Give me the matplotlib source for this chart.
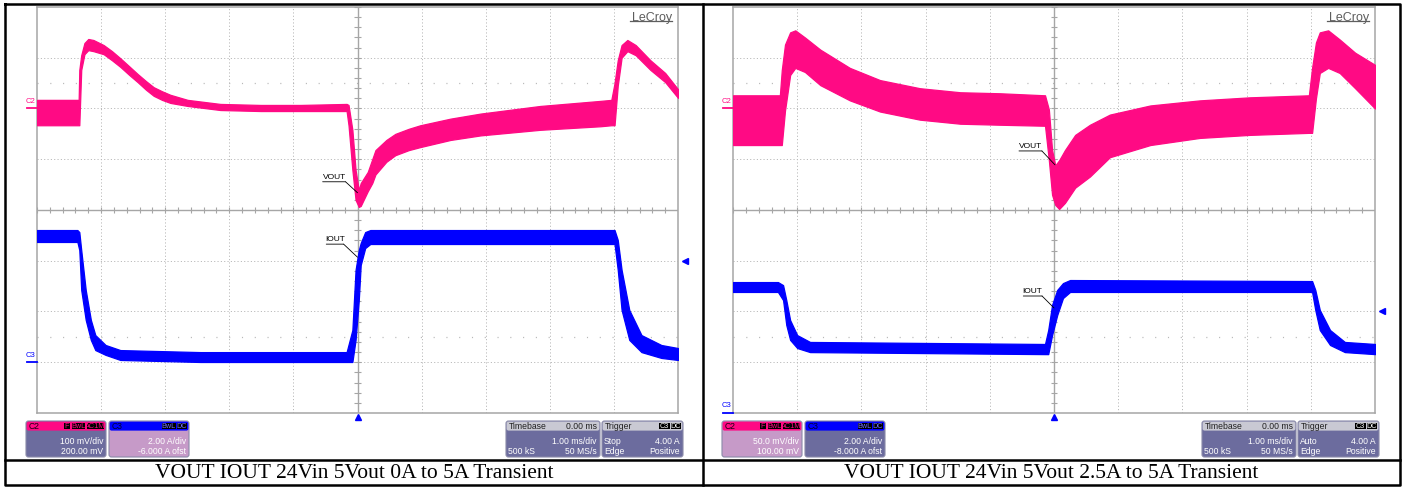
import matplotlib
matplotlib.use("Agg")
import matplotlib.pyplot as plt
from matplotlib.patches import FancyBboxPatch, Rectangle
from matplotlib.transforms import offset_copy
import numpy as np

plt.rcParams['lines.scale_dashes'] = False

# ---------------- data read from the two scope captures ----------------
# time in ms relative to the trigger (1 ms/div), envelopes of the noisy traces
# Left capture: 0A <-> 5A load step
L_vout_t = [-5.00, -4.35, -4.34, -4.31, -4.26, -4.20, -4.12, -3.96, -3.83, -3.70, -3.56, -3.43, -3.30,
            -3.18, -3.05, -2.92, -2.65, -2.14, -1.51, -0.89, -0.17, -0.14, -0.08, -0.03, 0.02, 0.05,
            0.16, 0.23, 0.28, 0.45, 0.59, 0.80, 0.98, 1.45, 1.92, 2.85, 3.79, 3.96, 4.01, 4.06, 4.12,
            4.21, 4.34, 4.57, 4.80, 5.00]
L_vout_hi = [17, 17, 76, 105, 129, 137, 135, 125, 113, 99, 83, 68, 54, 42, 34, 27, 17, 9, 7, 7, 9, 7,
             -42, -121, -161, -147, -125, -100, -82, -62, -50, -40, -33, -20, -10, 5, 15, 17, 50, 95,
             125, 135, 125, 95, 70, 38]
L_vout_lo = [-33, -33, -33, 76, 107, 115, 113, 107, 95, 82, 66, 52, 37, 25, 17, 11, 5, -3, -5, -5, -5,
             -33, -121, -180, -194, -192, -163, -147, -130, -105, -92, -82, -76, -62, -53, -42, -35,
             -33, -33, 45, 100, 113, 105, 76, 52, 21]
L_iout_t = [-5.00, -4.37, -4.34, -4.31, -4.24, -4.16, -4.09, -3.93, -3.70, -2.45, -0.17, -0.08, -0.03,
            0.02, 0.05, 0.12, 0.20, 3.93, 4.01, 4.06, 4.12, 4.24, 4.43, 4.74, 5.00]
L_iout_hi = [5.21, 5.21, 5.13, 4.42, 2.85, 1.67, 1.07, 0.68, 0.48, 0.40, 0.40, 1.27, 3.64, 4.42, 4.70,
             5.13, 5.21, 5.21, 5.21, 4.82, 3.64, 2.06, 1.07, 0.68, 0.56]
L_iout_lo = [4.74, 4.74, 4.42, 2.85, 1.67, 0.88, 0.48, 0.29, 0.09, 0.01, 0.01, 0.01, 0.88, 2.45, 3.83,
             4.50, 4.66, 4.66, 4.66, 3.64, 2.06, 0.88, 0.40, 0.17, 0.09]

# Right capture: 2.5A <-> 5A load step
R_vout_t = [-5.00, -4.27, -4.24, -4.19, -4.11, -4.03, -3.88, -3.64, -3.18, -2.71, -2.09, -1.46, -0.84,
            -0.14, -0.08, -0.03, 0.02, 0.08, 0.17, 0.33, 0.56, 0.87, 1.50, 2.27, 3.05, 3.97, 4.02, 4.08,
            4.14, 4.27, 4.45, 4.69, 5.00]
R_vout_hi = [13, 13, 38, 63, 75, 77, 70, 58, 40, 28, 20, 16, 15, 13, -1, -41, -56, -51, -41, -26, -16,
             -6, 3, 8, 11, 13, 40, 65, 75, 77, 68, 55, 43]
R_vout_lo = [-36, -36, -36, -2, 33, 40, 36, 23, 8, -3, -11, -15, -16, -17, -51, -85, -95, -99, -93, -78,
             -67, -48, -36, -29, -26, -24, -24, 10, 35, 40, 35, 20, 0]
R_iout_t = [-5.00, -4.30, -4.22, -4.17, -4.11, -4.00, -3.80, -0.14, -0.09, -0.03, 0.05, 0.14, 0.25,
            3.97, 4.02, 4.07, 4.14, 4.30, 4.53, 5.00]
R_iout_hi = [5.16, 5.16, 5.04, 4.45, 3.66, 3.07, 2.80, 2.72, 3.27, 4.26, 4.85, 5.12, 5.24, 5.20, 5.20,
             4.85, 4.06, 3.27, 2.80, 2.72]
R_iout_lo = [4.77, 4.77, 4.45, 3.47, 2.88, 2.56, 2.40, 2.32, 2.32, 3.07, 3.86, 4.53, 4.77, 4.77, 4.77,
             4.06, 3.27, 2.68, 2.40, 2.32]

# channel settings (scale per div, offset)
L_c2_scale, L_c2_offset = 100.0, 200.0     # mV/div, mV
L_c3_scale, L_c3_offset = 2.0, -6.0        # A/div, A
R_c2_scale, R_c2_offset = 50.0, 100.0
R_c3_scale, R_c3_offset = 2.0, -8.0
trig_level = 4.0
trig_mode = ["Stop", "Auto"]
captions = ["VOUT IOUT 24Vin 5Vout 0A to 5A Transient",
            "VOUT IOUT 24Vin 5Vout 2.5A to 5A Transient"]

# ---------------- drawing ----------------
W, H = 1405, 487
fig = plt.figure(figsize=(W / 100, H / 100), dpi=100)
PINK = '#FF0A84'
BLUE = '#0000FF'
GRID = '#B8B8B8'
AXC = '#A6A6A6'
SANS = ['Liberation Sans', 'DejaVu Sans']


def frac(x0, y0, x1, y1):
    return [x0 / W, 1 - y1 / H, (x1 - x0) / W, (y1 - y0) / H]


# overlay for table lines, info boxes and captions (pixel coordinates)
ov = fig.add_axes([0, 0, 1, 1])
ov.set_xlim(0, W)
ov.set_ylim(H, 0)
ov.axis('off')
tbl = dict(color='black', lw=1.8, solid_capstyle='projecting')
ov.plot([5, 1400, 1400, 5, 5], [4, 4, 485, 485, 4], **tbl)
ov.plot([703, 703], [4, 485], **tbl)
ov.plot([5, 1400], [460, 460], **tbl)
for cx, cap in zip([354, 1051.5], captions):
    ov.text(cx, 473, cap, ha='center', va='center', fontsize=15.5,
            family=['Liberation Serif', 'DejaVu Serif'], color='black')

SLATE = '#6C6C9E'
LIGHT = '#C69AC8'
HEADG = '#C9C9D3'


def info_box(x0, x1, head_color, head_left, head_left_color, head_right, badges, badge_tc,
             body_color, rows):
    y0, yh, y1 = 421, 430, 457
    ov.add_patch(FancyBboxPatch((x0, y0), x1 - x0, y1 - y0,
                                boxstyle='round,pad=0,rounding_size=2.5',
                                fc=body_color, ec='#8A8AA8', lw=0.8))
    ov.add_patch(FancyBboxPatch((x0 + 0.6, y0 + 0.6), x1 - x0 - 1.2, yh - y0,
                                boxstyle='round,pad=0,rounding_size=2',
                                fc=head_color, ec='none'))
    ym = (y0 + yh) / 2 + 0.8
    ov.text(x0 + 3, ym, head_left, ha='left', va='center', fontsize=6.2,
            color=head_left_color, family=SANS)
    xr = x1 - 2
    for b in reversed(badges):
        w = 3.6 * len(b) + 3
        ov.add_patch(Rectangle((xr - w, y0 + 1.6), w, yh - y0 - 2.2, fc='black', ec='none'))
        ov.text(xr - w / 2, ym, b, ha='center', va='center', fontsize=5.2, color=badge_tc,
                family=SANS)
        xr -= w + 1.2
    if head_right:
        ov.text(x1 - 3, ym, head_right, ha='right', va='center', fontsize=6.2,
                color='#202020', family=SANS)
    for (lt, rt), yy in zip(rows, [441.5, 452]):
        if lt:
            ov.text(x0 + 2, yy, lt, ha='left', va='center', fontsize=6.2, color='white', family=SANS)
        if rt:
            ov.text(x1 - 3, yy, rt, ha='right', va='center', fontsize=6.2, color='white', family=SANS)


def screen(rect, vt, vhi, vlo, vs, vo, it, ihi, ilo, is_, io, ann):
    ax = fig.add_axes(rect)
    ax.set_xlim(-5, 5)
    ax.set_ylim(-4, 4)
    ax.set_xticks([])
    ax.set_yticks([])
    ax.patch.set_facecolor('white')
    for sp in ax.spines.values():
        sp.set_color(AXC)
        sp.set_linewidth(1.1)
    gkw = dict(color=GRID, lw=0.7, ls=(0, (0.8, 1.6)), zorder=1)
    for k in range(-4, 5):
        if k:
            ax.axvline(k, **gkw)
    for k in range(-3, 4):
        if k:
            ax.axhline(k, **gkw)
    for k in (-2.5, 2.5):
        ax.axhline(k, color=GRID, lw=0.9, ls=(0, (0.8, 8.4)), zorder=1)
    ax.axhline(0, color=AXC, lw=1.0, zorder=1.5)
    ax.axvline(0, color=AXC, lw=1.0, zorder=1.5)
    ax.vlines(np.arange(-5, 5.001, 0.2), -0.065, 0.065, color=AXC, lw=0.8, zorder=1.5)
    ax.hlines(np.arange(-4, 4.001, 0.2), -0.05, 0.05, color=AXC, lw=0.8, zorder=1.5)

    v_hi = (np.array(vhi) + vo) / vs
    v_lo = (np.array(vlo) + vo) / vs
    i_hi = (np.array(ihi) + io) / is_
    i_lo = (np.array(ilo) + io) / is_
    ax.fill_between(vt, v_hi, v_lo, color=PINK, lw=0.9, zorder=3)
    ax.fill_between(it, i_hi, i_lo, color=BLUE, lw=0.9, zorder=3)

    # channel ground markers
    yt = ax.get_yaxis_transform()
    for lvl, name, col in [(vo / vs, 'C2', PINK), (io / is_, 'C3', BLUE)]:
        ax.plot([-0.016, 0.0], [lvl, lvl], transform=yt, color=col, lw=1.3, clip_on=False,
                zorder=4)
        ax.text(-0.003, lvl + 0.07, name, transform=yt, ha='right', va='bottom', fontsize=5.5,
                color=col, family=SANS, clip_on=False)
    # trigger level / position
    ax.plot([1.011], [(trig_level + io) / is_], transform=yt, marker='<', ms=5, color=BLUE,
            clip_on=False, zorder=5)
    ax.plot([0], [-0.011], transform=ax.get_xaxis_transform(), marker='^', ms=5, color=BLUE,
            clip_on=False, zorder=5)

    # LeCroy logo
    ax.text(0.991, 0.988, 'LeCroy', transform=ax.transAxes, ha='right', va='top', fontsize=9,
            color='#5E5E5E', family=SANS, zorder=6)
    ax.plot([0.925, 0.991], [0.966, 0.966], transform=ax.transAxes, color='#5E5E5E', lw=0.9,
            zorder=6)

    # trace labels with leader lines
    for label, px, py, dx, dy, w in ann:
        t_end = offset_copy(ax.transData, fig=fig, x=dx, y=dy, units='points')
        t_beg = offset_copy(ax.transData, fig=fig, x=dx - w, y=dy, units='points')
        ax.annotate('', xy=(px, py), xycoords=t_beg, xytext=(px, py), textcoords=t_end,
                    arrowprops=dict(arrowstyle='-', shrinkA=0, shrinkB=0, lw=0.6, color='black'),
                    zorder=6)
        ax.annotate('', xy=(px, py), xytext=(dx, dy), textcoords='offset points',
                    arrowprops=dict(arrowstyle='-', shrinkA=0, shrinkB=0, lw=0.6, color='black'),
                    zorder=6)
        ax.annotate(label, xy=(px, py), xytext=(dx - w / 2, dy + 0.6), textcoords='offset points',
                    ha='center', va='bottom', fontsize=6.0, family=SANS, color='black', zorder=6)
    return ax


screen(frac(37, 7, 678, 413), L_vout_t, L_vout_hi, L_vout_lo, L_c2_scale, L_c2_offset,
       L_iout_t, L_iout_hi, L_iout_lo, L_c3_scale, L_c3_offset,
       [('VOUT', 0.0, 0.34, -8.6, 7.9, 16.5), ('IOUT', 0.0, -0.93, -10.0, 9.4, 12.5)])
screen(frac(733, 7, 1375, 413), R_vout_t, R_vout_hi, R_vout_lo, R_c2_scale, R_c2_offset,
       R_iout_t, R_iout_hi, R_iout_lo, R_c3_scale, R_c3_offset,
       [('VOUT', 0.015, 0.89, -9.4, 10.0, 16.5), ('IOUT', 0.0, -1.93, -8.6, 8.6, 13.5)])

# info boxes
for k, (dxp, c2s, c2o, c3s, c3o, c2body, c3body) in enumerate([
        (0, L_c2_scale, L_c2_offset, L_c3_scale, L_c3_offset, SLATE, LIGHT),
        (696, R_c2_scale, R_c2_offset, R_c3_scale, R_c3_offset, LIGHT, SLATE)]):
    info_box(26 + dxp, 106 + dxp, PINK, 'C2', '#1A0010', None, ['F', 'BwL', 'AC1M'], PINK, c2body,
             [(None, f'{c2s:.1f} mV/div' if c2s < 100 else f'{c2s:.0f} mV/div'),
              (None, f'{c2o:.2f} mV')])
    info_box(109 + dxp, 189 + dxp, BLUE, 'C3', '#000030', None, ['BwL', 'DC'], '#7070FF', c3body,
             [(None, f'{c3s:.2f} A/div'), (None, f'{c3o:.3f} A ofst')])
    info_box(506 + dxp, 600 + dxp, HEADG, 'Timebase', '#202020', '0.00 ms', [], 'white', SLATE,
             [(None, '1.00 ms/div'), ('500 kS', '50 MS/s')])
    info_box(602 + dxp, 683 + dxp, HEADG, 'Trigger', '#202020', None, ['C3', 'DC'], 'white', SLATE,
             [(trig_mode[k], f'{trig_level:.2f} A'), ('Edge', 'Positive')])

fig.savefig('out.png', dpi=100)
